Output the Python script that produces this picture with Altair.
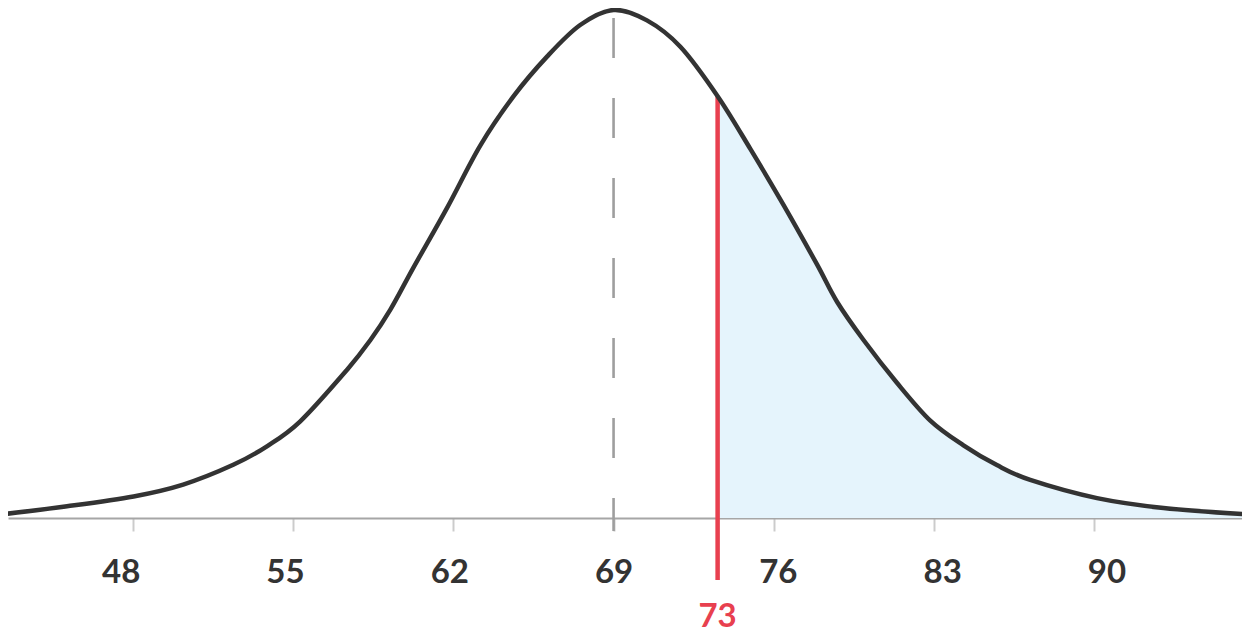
import altair as alt
import pandas as pd

# Curve: x value and height above the baseline (relative density units)
curve_x = [42.18, 45.10, 48.01, 50.18, 52.37, 53.86, 55.30, 57.34, 58.36, 59.24, 60.26,
           61.72, 63.17, 64.63, 66.09, 67.54, 69.0, 70.46, 71.92, 73.55, 74.98, 76.43, 77.89,
           78.77, 79.93, 81.39, 82.85, 84.30, 85.76, 87.22, 90.14, 93.05, 96.77]
curve_h = [3.5, 11.8, 21.8, 33.8, 53.8, 72.8, 97.8, 149.8, 179.8, 210.8, 253.8,
           313.8, 376.8, 426.8, 466.8, 498.8, 514.0, 503.5, 476.8, 426.8, 373.5, 316.8, 256.8,
           218.8, 180.1, 136.8, 98.5, 73.5, 53.5, 38.5, 20.1, 10.1, 3.5]

tick_values = [48, 55, 62, 69, 76, 83, 90]
mean_value = 69
cutoff_value = 73.55
cutoff_label = "73"

# vertical extents of the guide lines (same units as curve_h)
mean_line = [505.9, -13.2]
cutoff_line = [426.8, -62.7]
cutoff_label_h = -84

x_domain = [42.52, 96.48]
y_domain = [0, 516]

df = pd.DataFrame({"x": curve_x, "h": curve_h})
xs = alt.Scale(domain=x_domain, nice=False, zero=False)
ys = alt.Scale(domain=y_domain, nice=False)

x_axis = alt.Axis(
    values=tick_values, format="d", title=None, grid=False,
    domainColor="#a6a6a6", domainWidth=2,
    tickColor="#cccccc", tickWidth=2, tickSize=13,
    labelFont="Lato", labelFontSize=33, labelFontWeight="bold", labelColor="#333333",
    labelPadding=25, labelOffset=alt.ExprRef("(datum.value - 69) * 0.6"),
)

base = alt.Chart(df)

area = base.transform_filter(f"datum.x >= {cutoff_value}").mark_area(
    color="#e5f4fc", interpolate="cardinal"
).encode(
    x=alt.X("x:Q", scale=xs, axis=x_axis),
    y=alt.Y("h:Q", scale=ys, axis=None),
)

mean_df = pd.DataFrame({"x": [mean_value], "y1": [mean_line[0]], "y2": [mean_line[1]]})
mean_rule = alt.Chart(mean_df).mark_rule(
    color="#9e9e9e", strokeWidth=2.6, strokeDash=[40, 40]
).encode(x=alt.X("x:Q", scale=xs, axis=x_axis), y=alt.Y("y1:Q", scale=ys, axis=None), y2="y2:Q")

cut_df = pd.DataFrame({"x": [cutoff_value], "y1": [cutoff_line[0]], "y2": [cutoff_line[1]],
                       "ly": [cutoff_label_h], "label": [cutoff_label]})
cut_rule = alt.Chart(cut_df).mark_rule(color="#e8404f", strokeWidth=4.5).encode(
    x=alt.X("x:Q", scale=xs, axis=x_axis), y=alt.Y("y1:Q", scale=ys, axis=None), y2="y2:Q")

cut_text = alt.Chart(cut_df).mark_text(
    color="#e8404f", font="Lato", fontSize=33, fontWeight="bold", baseline="top", align="center"
).encode(x=alt.X("x:Q", scale=xs, axis=x_axis), y=alt.Y("ly:Q", scale=ys, axis=None),
         text="label:N")

line = base.mark_line(color="#333333", strokeWidth=4.5, interpolate="cardinal").encode(
    x=alt.X("x:Q", scale=xs, axis=x_axis), y=alt.Y("h:Q", scale=ys, axis=None))

chart = alt.layer(area, mean_rule, cut_rule, line, cut_text).properties(
    width=1234, height=510,
    background="white",
    autosize=alt.AutoSizeParams(type="none"),
    padding={"left": 0, "top": 0, "right": 0, "bottom": 115},
).configure_view(strokeWidth=0).configure_axis(grid=False)

chart.save("out.html", embed_options={"renderer": "svg", "actions": False})
